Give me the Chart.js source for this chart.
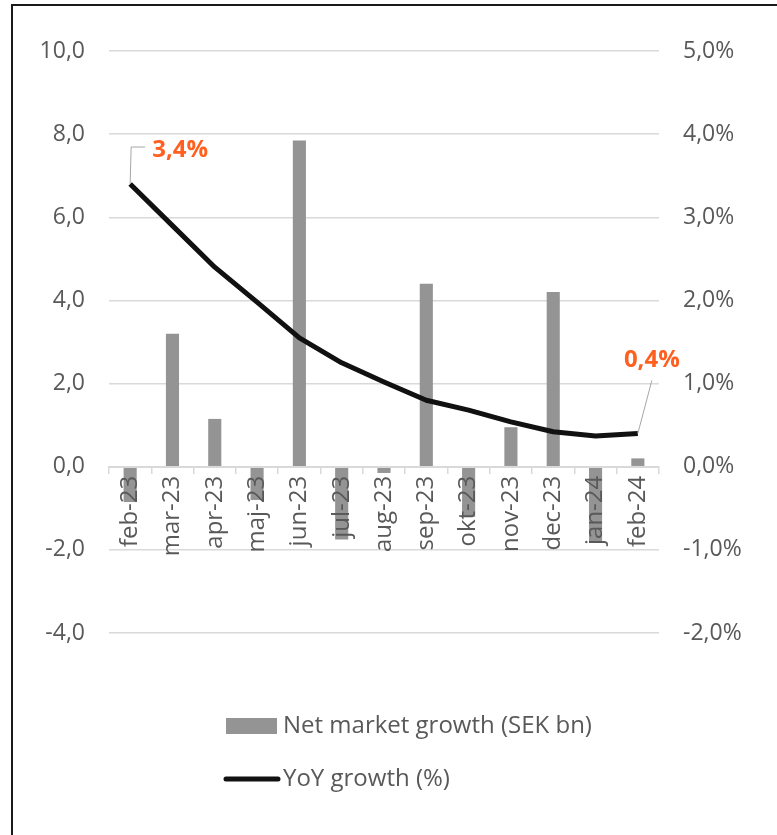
<!DOCTYPE html>
<html>
<head>
<meta charset="utf-8">
<script src="https://cdn.jsdelivr.net/npm/chart.js@4.4.1/dist/chart.umd.min.js"></script>
<style>
  html, body { margin: 0; padding: 0; background: #fff; overflow: hidden; }
  #frame {
    position: absolute; left: 11px; top: 4px;
    width: 820px; height: 900px;
    border: 2px solid #1a1a1a;
  }
  #wrap { position: absolute; left: 0; top: 0; width: 777px; height: 835px; }
</style>
</head>
<body>
<div id="frame"></div>
<div id="wrap"><canvas id="chart"></canvas></div>
<script>
const months = ['feb-23', 'mar-23', 'apr-23', 'maj-23', 'jun-23', 'jul-23', 'aug-23',
  'sep-23', 'okt-23', 'nov-23', 'dec-23', 'jan-24', 'feb-24'];
const netGrowth = [-0.85, 3.2, 1.15, -0.8, 7.85, -1.75, -0.15, 4.4, -1.2, 0.95, 4.2, -1.8, 0.2];
const yoyGrowth = [3.4, 2.9, 2.4, 1.98, 1.55, 1.25, 1.02, 0.8, 0.68, 0.54, 0.42, 0.37, 0.4];
const leftTicks = [-4, -2, 0, 2, 4, 6, 8, 10];
const rightTicks = [-2, -1, 0, 1, 2, 3, 4, 5];
const calloutLabels = ['3,4%', '0,4%'];

const FONT = "'Open Sans', 'Liberation Sans', sans-serif";
const TEXT = '#595959';
const GRID = '#d9d9d9';
const ORANGE = '#ff5f1f';

function fmt(v) {
  return v.toFixed(1).replace('.', ',');
}

const callouts = {
  id: 'callouts',
  afterDatasetsDraw(chart) {
    const pts = chart.getDatasetMeta(1).data;
    const first = pts[0];
    const last = pts[pts.length - 1];
    const ctx = chart.ctx;
    ctx.save();
    ctx.strokeStyle = '#a6a6a6';
    ctx.lineWidth = 1;
    ctx.beginPath();
    ctx.moveTo(first.x, first.y);
    ctx.lineTo(first.x + 1, first.y - 37);
    ctx.lineTo(first.x + 15, first.y - 37);
    ctx.moveTo(last.x, last.y);
    ctx.lineTo(last.x + 14, last.y - 53);
    ctx.stroke();

    ctx.fillStyle = ORANGE;
    ctx.font = `bold 24px ${FONT}`;
    ctx.textBaseline = 'middle';
    ctx.textAlign = 'left';
    ctx.fillText(calloutLabels[0], first.x + 22, first.y - 34);
    ctx.textAlign = 'center';
    ctx.fillText(calloutLabels[1], last.x + 14, last.y - 73);
    ctx.restore();
  }
};

const legendRows = {
  id: 'legendRows',
  afterDraw(chart) {
    const ctx = chart.ctx;
    const ds = chart.data.datasets;
    const x = 226;
    ctx.save();
    ctx.font = `24px ${FONT}`;
    ctx.textBaseline = 'middle';
    ctx.textAlign = 'left';

    ctx.fillStyle = ds[0].backgroundColor;
    ctx.fillRect(x, 718, 51, 16);
    ctx.fillStyle = TEXT;
    ctx.fillText(ds[0].label, x + 57, 726);

    ctx.strokeStyle = ds[1].borderColor;
    ctx.lineWidth = 5;
    ctx.lineCap = 'round';
    ctx.beginPath();
    ctx.moveTo(x, 779);
    ctx.lineTo(x + 52, 779);
    ctx.stroke();
    ctx.fillText(ds[1].label, x + 57, 779);
    ctx.restore();
  }
};

new Chart(document.getElementById('chart'), {
  type: 'bar',
  data: {
    labels: months,
    datasets: [
      {
        label: 'Net market growth (SEK bn)',
        data: netGrowth,
        backgroundColor: '#949494',
        yAxisID: 'y',
        barPercentage: 0.31,
        categoryPercentage: 1,
        order: 2
      },
      {
        type: 'line',
        label: 'YoY growth (%)',
        data: yoyGrowth,
        borderColor: '#111111',
        borderWidth: 5,
        borderJoinStyle: 'round',
        pointRadius: 0,
        tension: 0,
        yAxisID: 'y1',
        order: 1
      }
    ]
  },
  options: {
    responsive: true,
    maintainAspectRatio: false,
    animation: false,
    layout: { padding: { top: 51, bottom: 202, left: 0, right: 0 } },
    plugins: {
      legend: { display: false },
      tooltip: { enabled: false }
    },
    scales: {
      x: {
        position: { y: 0 },
        grid: {
          display: true,
          drawOnChartArea: false,
          offset: true,
          color: GRID,
          lineWidth: 1.5,
          tickLength: 6,
          z: 1
        },
        border: { display: true, color: GRID, width: 2, z: 1 },
        ticks: {
          z: 1,
          autoSkip: false,
          minRotation: 90,
          maxRotation: 90,
          padding: 3,
          color: TEXT,
          font: { family: FONT, size: 24 }
        }
      },
      y: {
        position: 'left',
        min: -4,
        max: 10,
        afterBuildTicks: (s) => { s.ticks = leftTicks.map(v => ({ value: v })); },
        afterFit: (s) => { s.width = 109; },
        grid: { color: GRID, lineWidth: 1.5, drawTicks: false },
        border: { display: false },
        ticks: {
          padding: 24,
          color: TEXT,
          font: { family: FONT, size: 23 },
          callback: (v) => fmt(v)
        }
      },
      y1: {
        position: 'right',
        min: -2,
        max: 5,
        afterBuildTicks: (s) => { s.ticks = rightTicks.map(v => ({ value: v })); },
        afterFit: (s) => { s.width = 118; },
        grid: { drawOnChartArea: false, drawTicks: false },
        border: { display: false },
        ticks: {
          padding: 24,
          color: TEXT,
          font: { family: FONT, size: 23 },
          callback: (v) => fmt(v) + '%'
        }
      }
    }
  },
  plugins: [callouts, legendRows]
});
</script>
</body>
</html>
